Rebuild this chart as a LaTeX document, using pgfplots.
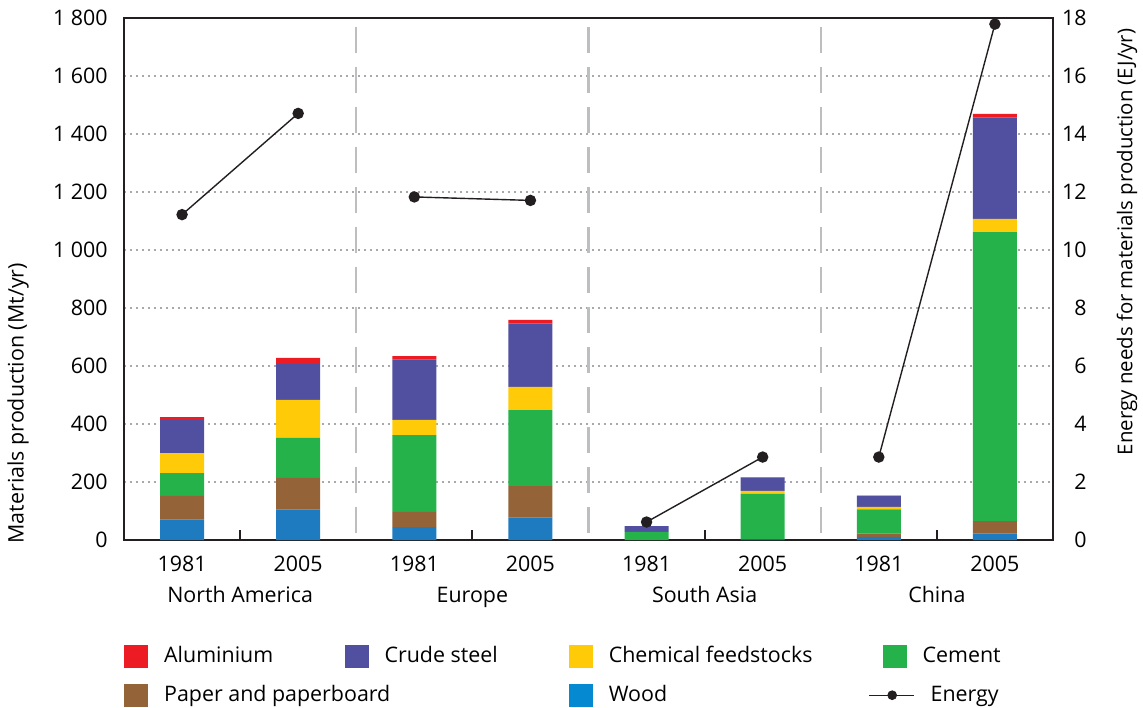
\documentclass[border=0pt]{standalone}
\usepackage{fontspec}
\setmainfont{Open Sans}
\usepackage{pgfplots}
\usepackage{pgfplotstable}
\pgfplotsset{compat=1.18}
\definecolor{alu}{HTML}{ED1C24}
\definecolor{steel}{HTML}{5150A0}
\definecolor{chem}{HTML}{FFCB08}
\definecolor{cement}{HTML}{25B24B}
\definecolor{paper}{HTML}{946337}
\definecolor{wood}{HTML}{1F7BC0}
\definecolor{woodleg}{HTML}{0589D0}
\definecolor{gridc}{HTML}{A7A9AC}
\definecolor{sepc}{HTML}{BCBEC0}
\definecolor{axc}{HTML}{231F20}

\pgfplotstableread{
x wood paper cement chem steel alu
0 71 81 79 69 114 10
1 106 108 138 131 124 21
2 44 53 265 52 209 11
3 78 108 262 80 219 12
4 0 0 28 0 20 0
5 1 1 157 10 45 2
6 11 11 84 8 38 1
7 22 43 997 45 350 12
}\bars

\pgfplotstableread{
x e
0 11.22
1 14.71
1.5 nan
2 11.83
3 11.71
3.5 nan
4 0.62
5 2.86
5.5 nan
6 2.86
7 17.79
}\energy

\begin{document}
\fontsize{10.7pt}{13pt}\selectfont
\begin{tikzpicture}
\begin{axis}[
  at={(0,0)}, anchor=south west,
  scale only axis, width=464.5pt, height=261pt,
  xmin=-0.5, xmax=7.5, ymin=0, ymax=1800,
  ybar stacked, bar width=22pt,
  axis line style={axc, line width=1.2pt},
  tick pos=left,
  major tick length=0pt,
  /pgf/number format/assume math mode=true,
  xtick={0,...,7},
  xticklabels={1981,2005,1981,2005,1981,2005,1981,2005},
  x tick label style={anchor=base, inner sep=0pt, yshift=-15.5pt},
  extra x ticks={0.5,2.5,4.5,6.5},
  extra x tick labels={North America,Europe,South Asia,China},
  extra x tick style={major tick length=5pt, tick style={axc, line width=1pt},
    x tick label style={yshift=-15.5pt}},
  ytick={0,200,...,1800},
  yticklabels={0,200,400,600,800,1 000,1 200,1 400,1 600,1 800},
  y tick label style={anchor=east, inner sep=0pt, xshift=-8pt},
  ymajorgrids,
  grid style={gridc, line width=0.9pt, dash pattern=on 1pt off 2pt},
  ylabel={Materials production (Mt/yr)},
  every axis y label/.style={at={(axis description cs:0,0.262)}, xshift=-53pt, rotate=90, anchor=center},
]
\addplot[fill=wood, draw=none] table[x=x,y=wood]{\bars};
\addplot[fill=paper, draw=none] table[x=x,y=paper]{\bars};
\addplot[fill=cement, draw=none] table[x=x,y=cement]{\bars};
\addplot[fill=chem, draw=none] table[x=x,y=chem]{\bars};
\addplot[fill=steel, draw=none] table[x=x,y=steel]{\bars};
\addplot[fill=alu, draw=none] table[x=x,y=alu]{\bars};
\end{axis}
\begin{axis}[
  at={(0,0)}, anchor=south west,
  scale only axis, width=464.5pt, height=261pt,
  xmin=-0.5, xmax=7.5, ymin=0, ymax=18,
  axis x line=none, axis y line*=right,
  axis line style={axc, line width=1.2pt},
  major tick length=0pt,
  /pgf/number format/assume math mode=true,
  ytick={0,2,...,18},
  y tick label style={anchor=east, inner sep=0pt, xshift=17pt},
  ylabel={Energy needs for materials production (EJ/yr)},
  every axis y label/.style={at={(axis description cs:1,0.571)}, xshift=37pt, rotate=90, anchor=center, font=\fontsize{10.2pt}{12pt}\selectfont},
  unbounded coords=jump,
  clip=false,
  legend columns=4,
  legend cell align=left,
  legend style={at={(axis description cs:0,0)}, anchor=north west, xshift=0.2pt, yshift=-52.5pt,
    draw=none, fill=none, inner sep=0pt, outer sep=0pt, row sep=8pt,
    nodes={inner sep=0pt},
    /tikz/every odd column/.append style={column sep=8pt}},
]
\addlegendimage{legend image code/.code={\fill[alu] (0pt,-5.5pt) rectangle (11.5pt,5.5pt);}}
\addlegendimage{legend image code/.code={\fill[steel] (0pt,-5.5pt) rectangle (11.5pt,5.5pt);}}
\addlegendimage{legend image code/.code={\fill[chem] (0pt,-5.5pt) rectangle (11.5pt,5.5pt);}}
\addlegendimage{legend image code/.code={\fill[cement] (0pt,-5.5pt) rectangle (11.5pt,5.5pt);}}
\addlegendimage{legend image code/.code={\fill[paper] (0pt,-5.5pt) rectangle (11.5pt,5.5pt);}}
\addlegendimage{empty legend}
\addlegendimage{legend image code/.code={\fill[woodleg] (0pt,-5.5pt) rectangle (11.5pt,5.5pt);}}
\addlegendimage{legend image code/.code={\path[draw=none, fill=none] (0pt,-5.5pt) rectangle (11.5pt,5.5pt); \draw[overlay, axc, line width=0.7pt] (-7pt,0pt) -- (15.5pt,0pt); \fill[overlay, axc] (4.5pt,0pt) circle (2.2pt);}}
\legend{\makebox[90.3pt][l]{Aluminium},\makebox[92.2pt][l]{Crude steel},\makebox[137pt][l]{Chemical feedstocks},Cement,
  \makebox[90.3pt][l]{Paper and paperboard},\hphantom{x},\makebox[137pt][l]{Wood},\hspace{4pt}Energy}
\addplot[sepc, line width=1.1pt, dash pattern=on 13pt off 7pt, dash phase=15.5pt, forget plot] coordinates {(1.5,18) (1.5,0)};
\addplot[sepc, line width=1.1pt, dash pattern=on 13pt off 7pt, dash phase=15.5pt, forget plot] coordinates {(3.5,18) (3.5,0)};
\addplot[sepc, line width=1.1pt, dash pattern=on 13pt off 7pt, dash phase=15.5pt, forget plot] coordinates {(5.5,18) (5.5,0)};
\addplot[axc, line width=0.7pt, mark=*, mark size=2.5pt, mark options={fill=axc}, forget plot] table[x=x,y=e]{\energy};
\end{axis}
\pgfresetboundingbox
\path (-62pt,-83.5pt) rectangle (509.5pt,270pt);
\end{tikzpicture}
\end{document}
